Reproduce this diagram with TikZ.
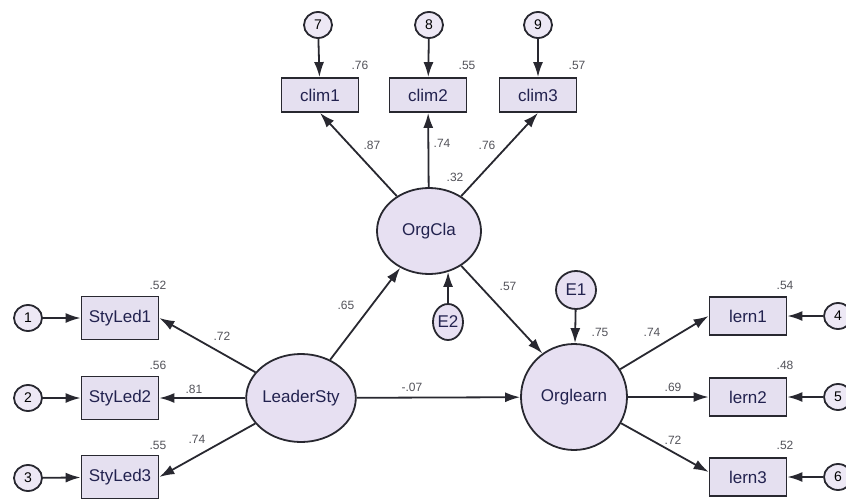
\documentclass[tikz,border=0pt]{standalone}
\usepackage{fontspec}
\setmainfont{Liberation Sans}
\usetikzlibrary{shapes.geometric,arrows.meta}
\definecolor{nodefill}{RGB}{231,224,242}
\definecolor{boxfill}{RGB}{229,224,240}
\definecolor{ink}{RGB}{40,40,48}
\tikzset{
  latent/.style={ellipse,draw=ink,line width=1.8pt,fill=nodefill,inner sep=0pt,font=\fontsize{17}{19}\selectfont,text=ink!85!blue},
  errc/.style={ellipse,draw=ink,line width=1.8pt,fill=nodefill!75!white,inner sep=0pt,minimum width=28pt,minimum height=26pt,font=\fontsize{14}{16}\selectfont},
  obsbox/.style={rectangle,draw=ink,line width=1.8pt,fill=boxfill,inner sep=0pt,minimum width=77pt,font=\fontsize{17}{19}\selectfont,text=ink!85!blue},
  coef/.style={inner sep=0pt,font=\fontsize{12}{14}\selectfont,text=ink!80},
  pathline/.style={draw=ink,line width=1.8pt,-{Latex[length=15pt,width=10pt]}}
}
\begin{document}
\begin{tikzpicture}[x=1pt,y=-1pt]
\clip (0,0) rectangle (846,501);
\fill[white] (0,0) rectangle (846,501);
% latent variables
\node[latent,minimum width=104pt,minimum height=86pt] (OrgCla) at (429,231) {OrgCla};
\node[latent,minimum width=102pt,minimum height=88pt] (LeaderSty) at (301,398) {LeaderSty};
\node[latent,minimum width=106pt,minimum height=106pt] (Orglearn) at (574,397) {Orglearn};
\node[latent,minimum width=40pt,minimum height=38pt] (E1) at (576,290) {E1};
\node[latent,minimum width=30pt,minimum height=36pt] (E2) at (448,322) {E2};
% observed
\node[obsbox,minimum height=34pt] (clim1) at (320,95) {clim1};
\node[obsbox,minimum height=34pt] (clim2) at (428,95) {clim2};
\node[obsbox,minimum height=34pt] (clim3) at (538,95) {clim3};
\node[obsbox,minimum height=43pt] (sl1) at (120,318) {StyLed1};
\node[obsbox,minimum height=43pt] (sl2) at (120,398) {StyLed2};
\node[obsbox,minimum height=43pt] (sl3) at (120,477) {StyLed3};
\node[obsbox,minimum height=38pt] (lern1) at (748,316) {lern1};
\node[obsbox,minimum height=38pt] (lern2) at (748,397) {lern2};
\node[obsbox,minimum height=38pt] (lern3) at (748,477) {lern3};
% error terms
\node[errc] (e1) at (28,318) {1};
\node[errc] (e2) at (28,398) {2};
\node[errc] (e3) at (28,478) {3};
\node[errc] (e4) at (838,316) {4};
\node[errc] (e5) at (838,397) {5};
\node[errc] (e6) at (838,477) {6};
\node[errc] (e7) at (318,25) {7};
\node[errc] (e8) at (429,25) {8};
\node[errc] (e9) at (538,25) {9};
% paths
\draw[pathline] (e1) -- (sl1);
\draw[pathline] (e2) -- (sl2);
\draw[pathline] (e3) -- (sl3);
\draw[pathline] (e4) -- (lern1);
\draw[pathline] (e5) -- (lern2);
\draw[pathline] (e6) -- (lern3);
\draw[pathline] (e7) -- (clim1);
\draw[pathline] (e8) -- (clim2);
\draw[pathline] (e9) -- (clim3);
\draw[pathline] (LeaderSty) -- (sl1.east);
\draw[pathline] (LeaderSty) -- (sl2);
\draw[pathline] (LeaderSty) -- (sl3.east);
\draw[pathline] (LeaderSty) -- (OrgCla.232);
\draw[pathline] (LeaderSty) -- (Orglearn);
\draw[pathline] (OrgCla) -- (clim1.south);
\draw[pathline] (OrgCla) -- (clim2);
\draw[pathline] (OrgCla) -- (clim3.south);
\draw[pathline] (OrgCla) -- (Orglearn.126);
\draw[pathline] (E2) -- (OrgCla.-65);
\draw[pathline] (E1) -- (Orglearn);
\draw[pathline] (Orglearn) -- (lern1.west);
\draw[pathline] (Orglearn) -- (lern2);
\draw[pathline] (Orglearn) -- ([yshift=5pt]lern3.west);
% coefficients
\node[coef] (c1) at (360,65) {.76};
\node[coef] (c2) at (467,65) {.55};
\node[coef] (c3) at (577,65) {.57};
\node[coef] (c4) at (372,145) {.87};
\node[coef] (c5) at (442,143) {.74};
\node[coef] (c6) at (487,145) {.76};
\node[coef] (c7) at (455,177) {.32};
\node[coef] (c8) at (346,305) {.65};
\node[coef] (c9) at (508,286) {.57};
\node[coef] (c10) at (600,332) {.75};
\node[coef] (c11) at (158,285) {.52};
\node[coef] (c12) at (158,365) {.56};
\node[coef] (c13) at (158,445) {.55};
\node[coef] (c14) at (222,336) {.72};
\node[coef] (c15) at (194,389) {.81};
\node[coef] (c16) at (197,439) {.74};
\node[coef] (c17) at (412,387) {-.07};
\node[coef] (c18) at (652,332) {.74};
\node[coef] (c19) at (673,387) {.69};
\node[coef] (c20) at (673,440) {.72};
\node[coef] (c21) at (785,285) {.54};
\node[coef] (c22) at (785,365) {.48};
\node[coef] (c23) at (785,445) {.52};
\end{tikzpicture}
\end{document}
